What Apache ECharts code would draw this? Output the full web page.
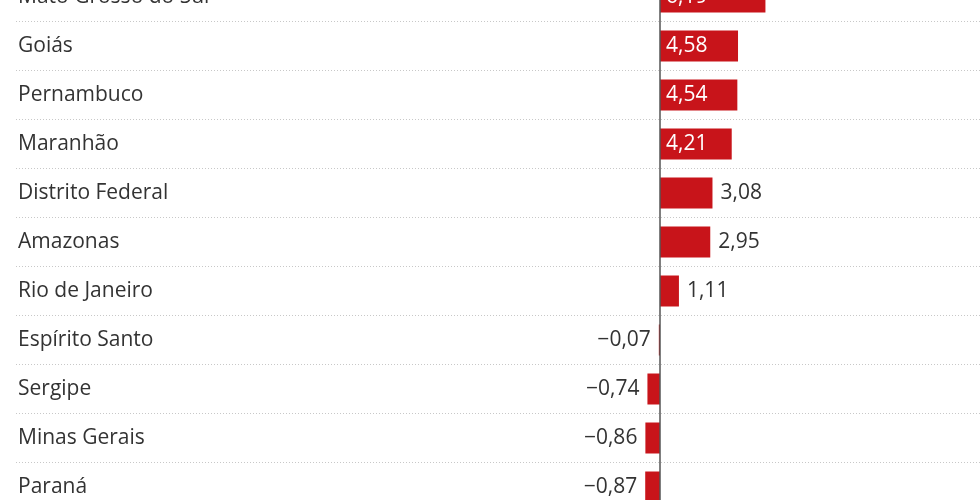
<!DOCTYPE html>
<html>
<head>
<meta charset="utf-8">
<script src="https://cdn.jsdelivr.net/npm/echarts@6/dist/echarts.min.js"></script>
<style>
html,body{margin:0;padding:0;background:#fff;}
#chart{width:980px;height:500px;}
</style>
</head>
<body>
<div id="chart"></div>
<script>
const categories = ["Mato Grosso do Sul","Goiás","Pernambuco","Maranhão","Distrito Federal","Amazonas","Rio de Janeiro","Espírito Santo","Sergipe","Minas Gerais","Paraná"];
const values = [6.19, 4.58, 4.54, 4.21, 3.08, 2.95, 1.11, -0.07, -0.74, -0.86, -0.87];

function fmt(v){
  const s = Math.abs(v).toFixed(2).replace('.', ',');
  return (v < 0 ? '\u2212' : '') + s;
}

const font = '"Open Sans", "Noto Sans", sans-serif';
const data = values.map(v => {
  const inside = v >= 4;
  return {
    value: v,
    label: {
      show: true,
      position: inside ? 'insideLeft' : (v < 0 ? 'left' : 'right'),
      distance: inside ? 6 : 8,
      color: inside ? '#ffffff' : '#333333',
      fontSize: 21,
      fontFamily: font,
      formatter: p => fmt(p.value)
    }
  };
});

const chart = echarts.init(document.getElementById('chart'));
chart.setOption({
  animation: false,
  grid: {left: 16, width: 964, top: -27.5, height: 539, containLabel: false, outerBoundsMode: 'none'},
  xAxis: {
    type: 'value', min: -37.82, max: 18.79,
    show: false
  },
  yAxis: {
    type: 'category', data: categories, inverse: true,
    axisLine: {show: false}, axisTick: {show: false},
    axisLabel: {inside: true, margin: 2, color: '#333333', fontSize: 21, fontFamily: font, align: 'left'},
    splitLine: {show: true, lineStyle: {type: [1, 2], color: '#c8c8c8', width: 1}}
  },
  series: [{
    type: 'bar', data: data, barWidth: 31,
    itemStyle: {color: '#c8141a'},
    markLine: {
      silent: true, symbol: 'none', label: {show: false},
      lineStyle: {color: '#555555', width: 1.5, type: 'solid'},
      data: [{xAxis: 0}]
    }
  }]
});
</script>
</body>
</html>
